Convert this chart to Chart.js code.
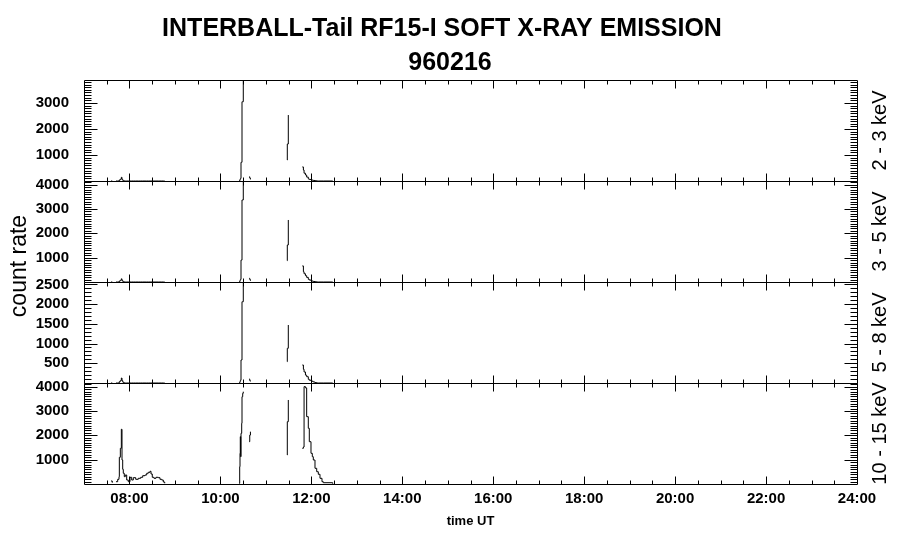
<!DOCTYPE html>
<html>
<head>
<meta charset="utf-8">
<title>INTERBALL-Tail RF15-I soft X-ray emission 960216</title>
<script src="https://cdn.jsdelivr.net/npm/chart.js@4.4.1/dist/chart.umd.min.js"></script>
<style>
  html, body { margin: 0; padding: 0; background: #fff; }
  canvas { display: block; }
</style>
</head>
<body>
<canvas id="xrayChart" width="900" height="548"></canvas>
<script>
const chartTitle = 'INTERBALL-Tail RF15-I SOFT X-RAY EMISSION';
const chartDate = '960216';
const yTitle = 'count rate';
const xTitle = 'time UT';

// energy bands, one panel each (top to bottom)
const bandNames = ['2 - 3 keV', '3 - 5 keV', '5 - 8 keV', '10 - 15 keV'];
const bandMax = [3880, 4150, 2560, 4150];
const bandTicks = [
    [1000, 2000, 3000],
    [1000, 2000, 3000, 4000],
    [500, 1000, 1500, 2000, 2500],
    [1000, 2000, 3000, 4000]
];
const yMinorStep = 100;

const hourMin = 7;
const hourMax = 24;
const hourTicks = [8, 10, 12, 14, 16, 18, 20, 22, 24];
const hourMinorStep = 0.5;

// time in decimal hours UT; null rows in the bands are data gaps
const hours = [
    7.594, 7.622,
    7.660,
    7.704, 7.741, 7.770, 7.777, 7.799, 7.821, 7.836, 7.851, 7.864, 7.886,
    7.908, 7.939, 7.974, 8.012, 8.049, 8.084, 8.137, 8.194, 8.247, 8.291,
    8.342, 8.379, 8.414, 8.452, 8.474, 8.502, 8.539, 8.583, 8.634, 8.671,
    8.709, 8.744, 8.775,
    9.500,
    10.409, 10.424, 10.431, 10.437, 10.446, 10.453, 10.468, 10.475, 10.490, 10.503,
    10.550,
    10.630, 10.645, 10.660,
    11.000,
    11.465, 11.471, 11.493,
    11.600,
    11.801, 11.825, 11.840, 11.870, 11.897, 11.933, 11.955, 11.992, 12.021,
    12.043, 12.080, 12.118, 12.153, 12.190, 12.234, 12.263, 12.470
];

const band23 = [
    0, 0,
    null,
    0, 0, 5, 40, 70, 140, 60, 30, 10, 0,
    0, 0, 0, 0, 0, 0, 0, 0, 0, 0,
    0, 0, 0, 0, 0, 0, 0, 0, 0, 0,
    0, 0, 0,
    null,
    0, 20, 65, 80, 104, 718, 718, 3045, 3045, 3880,
    null,
    160, 110, 60,
    null,
    806, 1421, 2534,
    null,
    540, 420, 300, 230, 150, 80, 60, 45, 30,
    20, 10, 0, 0, 0, 0, 0, 0
];

const band35 = [
    0, 0,
    null,
    0, 0, 5, 40, 70, 130, 60, 30, 10, 0,
    0, 0, 0, 0, 0, 0, 0, 0, 0, 0,
    0, 0, 0, 0, 0, 0, 0, 0, 0, 0,
    0, 0, 0,
    null,
    0, 20, 70, 90, 110, 900, 900, 3370, 3370, 4150,
    null,
    150, 100, 50,
    null,
    875, 1520, 2548,
    null,
    660, 420, 340, 260, 190, 110, 80, 50, 35,
    20, 10, 0, 0, 0, 0, 0, 0
];

const band58 = [
    0, 0,
    null,
    0, 0, 5, 35, 60, 125, 60, 30, 10, 0,
    0, 0, 0, 0, 0, 0, 0, 0, 0, 0,
    0, 0, 0, 0, 0, 0, 0, 0, 0, 0,
    0, 0, 0,
    null,
    0, 15, 40, 60, 76, 583, 583, 2060, 2060, 2560,
    null,
    100, 60, 40,
    null,
    540, 880, 1470,
    null,
    456, 347, 280, 200, 160, 94, 70, 55, 40,
    25, 10, 0, 0, 0, 0, 0, 0
];

const band1015 = [
    123, 53,
    null,
    95, 193, 300, 1097, 1467, 2248, 986, 604, 440, 300,
    370, 164, 95, 275, 164, 260, 193, 234, 275, 341,
    370, 440, 481, 522, 411, 275, 234, 275, 260, 193,
    164, 82, 29,
    null,
    29, 711, 1262, 1944, 1122, 2083, 2494, 3587, 3727, 3793,
    null,
    1740, 2010, 2150,
    null,
    1192, 2560, 3452,
    null,
    1467, 1520, 4000, 3950, 2766, 2289, 1738, 1261, 1122,
    986, 645, 505, 399, 234, 95, 53, 10
];

const bandValues = [band23, band35, band58, band1015];

const fontFamily = '"Liberation Sans", Arial, Helvetica, sans-serif';
Chart.defaults.font.family = fontFamily;
Chart.defaults.color = '#000';

// boxes with inward ticks on all four sides, plus the free text
const panelFrame = {
    id: 'panelFrame',
    afterDraw(chart) {
        const { ctx, chartArea: area, scales } = chart;
        const xs = scales.x;
        const left = Math.round(area.left) + 0.5;
        const right = Math.round(area.right) + 0.5;

        ctx.save();
        ctx.strokeStyle = '#000';
        ctx.lineWidth = 1;
        ctx.beginPath();
        bandNames.forEach((name, i) => {
            const ys = scales['y' + i];
            const top = Math.round(ys.top) + 0.5;
            const bottom = Math.round(ys.bottom) + 0.5;
            ctx.rect(left, top, right - left, bottom - top);

            for (let v = yMinorStep; v < bandMax[i]; v += yMinorStep) {
                const py = Math.round(ys.getPixelForValue(v)) + 0.5;
                const len = bandTicks[i].includes(v) ? 13 : 7;
                ctx.moveTo(left, py);
                ctx.lineTo(left + len, py);
                ctx.moveTo(right, py);
                ctx.lineTo(right - len, py);
            }

            for (let h = hourMin + hourMinorStep; h < hourMax; h += hourMinorStep) {
                const px = Math.round(xs.getPixelForValue(h)) + 0.5;
                const len = hourTicks.includes(h) ? 8 : 4;
                ctx.moveTo(px, top);
                ctx.lineTo(px, top + len);
                ctx.moveTo(px, bottom);
                ctx.lineTo(px, bottom - len);
            }
        });
        ctx.stroke();

        ctx.fillStyle = '#000';
        ctx.textAlign = 'center';
        ctx.textBaseline = 'alphabetic';
        ctx.font = 'bold 25px ' + fontFamily;
        ctx.fillText(chartTitle, 442, 36);
        ctx.fillText(chartDate, 450, 70);

        ctx.font = '23px ' + fontFamily;
        ctx.save();
        ctx.translate(26, 266);
        ctx.rotate(-Math.PI / 2);
        ctx.fillText(yTitle, 0, 0);
        ctx.restore();

        ctx.font = '20px ' + fontFamily;
        bandNames.forEach((name, i) => {
            const ys = scales['y' + i];
            ctx.save();
            ctx.translate(886, (ys.top + ys.bottom) / 2);
            ctx.rotate(-Math.PI / 2);
            ctx.fillText(name, 0, 0);
            ctx.restore();
        });
        ctx.restore();
    }
};

const scales = {
    x: {
        type: 'linear',
        min: hourMin,
        max: hourMax,
        afterBuildTicks: s => { s.ticks = hourTicks.map(v => ({ value: v })); },
        afterFit: s => { s.height = 64; },
        grid: { display: false },
        border: { display: false },
        ticks: {
            padding: -2,
            autoSkip: false,
            maxRotation: 0,
            font: { size: 15, weight: 'bold' },
            callback: v => String(v).padStart(2, '0') + ':00'
        },
        title: {
            display: true,
            text: xTitle,
            font: { size: 13, weight: 'bold' },
            padding: { top: 0, bottom: 19 }
        }
    }
};

bandNames.forEach((name, i) => {
    scales['y' + i] = {
        type: 'linear',
        position: 'left',
        stack: 'bands',
        stackWeight: 1,
        weight: bandNames.length - i,
        min: 0,
        max: bandMax[i],
        afterBuildTicks: s => { s.ticks = bandTicks[i].map(v => ({ value: v })); },
        afterFit: s => { s.width = 84; },
        grid: { display: false },
        border: { display: false },
        ticks: {
            padding: 7,
            autoSkip: false,
            font: { size: 15, weight: 'bold' },
            callback: v => String(v)
        }
    };
});

new Chart(document.getElementById('xrayChart'), {
    type: 'line',
    data: {
        datasets: bandNames.map((name, i) => ({
            label: name,
            xAxisID: 'x',
            yAxisID: 'y' + i,
            data: hours.map((h, k) => ({ x: h, y: bandValues[i][k] })),
            borderColor: '#000',
            borderWidth: 1,
            pointRadius: 0,
            stepped: true,
            spanGaps: false,
            fill: false
        }))
    },
    options: {
        responsive: false,
        animation: false,
        devicePixelRatio: 1,
        layout: { padding: { top: 80, right: 43, bottom: 0, left: 0 } },
        scales: scales,
        plugins: {
            legend: { display: false },
            tooltip: { enabled: false },
            title: { display: false }
        }
    },
    plugins: [panelFrame]
});
</script>
</body>
</html>
